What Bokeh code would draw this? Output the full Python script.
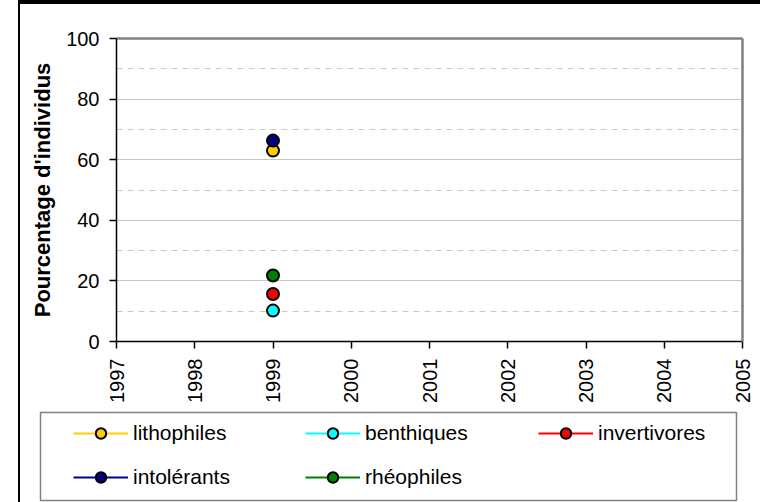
import math
from bokeh.plotting import figure
from bokeh.layouts import column, row
from bokeh.models import (Range1d, FixedTicker, SingleIntervalTicker, LinearAxis,
                          Legend, LegendItem)
from bokeh.embed import file_html
from bokeh.resources import INLINE

# ---- data ----
years = [1999]
year_ticks = [1997, 1998, 1999, 2000, 2001, 2002, 2003, 2004, 2005]
lithophiles = [63.0]
benthiques = [10.2]
invertivores = [15.7]
intolerants = [66.3]
rheophiles = [21.8]
series_names = ["lithophiles", "benthiques", "invertivores", "intolérants", "rhéophiles"]
series_values = [lithophiles, benthiques, invertivores, intolerants, rheophiles]
series_colors = ["#FFCC00", "#00FFFF", "#FF0000", "#000080", "#008000"]
y_title = "Pourcentage d'individus"

FONT = "Liberation Sans"

# ---- main chart ----
p = figure(width=740, height=406, x_range=Range1d(1997, 2005), y_range=Range1d(0, 100),
           output_backend="svg", toolbar_location=None,
           min_border_left=96, min_border_right=18, min_border_top=34, min_border_bottom=69)
p.background_fill_color = "white"
p.border_fill_color = "white"
p.outline_line_color = None

xt = FixedTicker(ticks=year_ticks)
p.xaxis.ticker = xt
yt = SingleIntervalTicker(interval=20, num_minor_ticks=2)
p.yaxis.ticker = yt
for ax in (p.xaxis, p.yaxis):
    ax.axis_line_color = "black"
    ax.axis_line_width = 1.5
    ax.major_tick_line_color = "black"
    ax.major_tick_line_width = 1.5
    ax.major_tick_out = 7
    ax.major_tick_in = 0
    ax.minor_tick_line_color = None
    ax.major_label_text_font = FONT
    ax.major_label_text_font_size = "20px"
    ax.major_label_text_color = "black"
    ax.major_label_standoff = 10
p.xaxis.major_label_orientation = math.pi / 2
p.yaxis.axis_label = y_title
p.yaxis.axis_label_text_font = FONT
p.yaxis.axis_label_text_font_size = "22px"
p.yaxis.axis_label_text_font_style = "bold"
p.yaxis.axis_label_text_color = "black"
p.yaxis.axis_label_standoff = 8

for side in ("above", "right"):
    ax = LinearAxis(ticker=FixedTicker(ticks=[]), axis_line_color="#808080",
                    axis_line_width=2.5, major_tick_line_color=None,
                    minor_tick_line_color=None)
    p.add_layout(ax, side)

p.xgrid.visible = False
p.ygrid.ticker = yt
p.ygrid.grid_line_color = "#C4C4C4"
p.ygrid.grid_line_width = 1
p.ygrid.minor_grid_line_color = "#C8C8C8"
p.ygrid.minor_grid_line_dash = "6 5"
p.ygrid.minor_grid_line_width = 1

for name, vals, col in zip(series_names, series_values, series_colors):
    p.line(years, vals, line_color=col, line_width=2)
    p.scatter(years, vals, size=12, fill_color=col, line_color="black", line_width=2)

# ---- legend panel (its frame is the legend box) ----
pl = figure(width=740, height=92, x_range=Range1d(0, 1), y_range=Range1d(0, 1),
            output_backend="svg", toolbar_location=None,
            x_axis_location=None, y_axis_location=None,
            min_border_left=20, min_border_right=24, min_border_top=2, min_border_bottom=2)
pl.grid.visible = False
pl.background_fill_color = "white"
pl.border_fill_color = "white"
pl.outline_line_color = "#808080"
pl.outline_line_width = 1.5

items = {}
for name, vals, col in zip(series_names, series_values, series_colors):
    rl = pl.line(years, vals, line_color=col, line_width=2)
    rs = pl.scatter(years, vals, size=12, fill_color=col, line_color="black", line_width=2)
    items[name] = LegendItem(label=name, renderers=[rl, rs])

cols = [(["lithophiles", "intolérants"], 33, 10),
        (["benthiques", "rhéophiles"], 265, 10),
        (["invertivores"], 498, 54)]
for names, lx, ly in cols:
    lg = Legend(items=[items[n] for n in names], location=(lx, ly), orientation="vertical",
                padding=0, margin=0, spacing=18, glyph_width=55, glyph_height=26,
                label_height=26, label_standoff=5, label_text_font=FONT,
                label_text_font_size="21px", label_text_color="black",
                border_line_color=None, background_fill_alpha=0)
    pl.add_layout(lg)

layout = column(p, row(pl, spacing=0), spacing=0)
layout.styles = {"border-top": "4px solid black", "border-left": "2px solid black",
                 "margin-left": "18px"}

open("out.html", "w").write(file_html(layout, INLINE))
